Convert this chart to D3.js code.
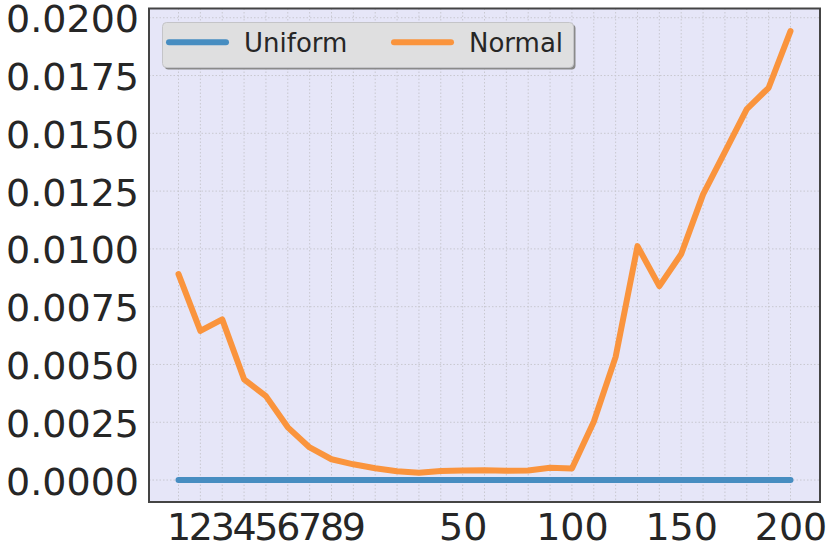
<!DOCTYPE html>
<html>
<head>
<meta charset="utf-8">
<script src="https://cdn.jsdelivr.net/npm/d3@7"></script>
<style>
  html, body { margin: 0; padding: 0; background: #ffffff; }
  svg { display: block; }
  text { font-family: 'DejaVu Sans', sans-serif; fill: #262626; }
</style>
</head>
<body>
<svg id="chart" width="830" height="554"></svg>
<script>
// ---- data ----
const categories = [1, 2, 3, 4, 5, 6, 7, 8, 9, 10, 20, 30, 40, 50, 60, 70, 80, 90, 100,
                    110, 120, 130, 140, 150, 160, 170, 180, 190, 200];
const shownXLabels = [1, 2, 3, 4, 5, 6, 7, 8, 9, 50, 100, 150, 200];
const uniformValues = [0, 0, 0, 0, 0, 0, 0, 0, 0, 0, 0, 0, 0, 0, 0,
                       0, 0, 0, 0, 0, 0, 0, 0, 0, 0, 0, 0, 0, 0];
const normalValues = [0.00891, 0.00645, 0.00695, 0.00436, 0.00363, 0.00228, 0.00141, 0.00090,
                      0.00068, 0.00051, 0.00038, 0.00032, 0.00039, 0.00041, 0.00042, 0.00040,
                      0.00041, 0.00053, 0.00050, 0.00252, 0.00533, 0.01012, 0.00839, 0.00978,
                      0.01236, 0.01420, 0.01605, 0.01697, 0.01942];
const yTicks = [0, 0.0025, 0.005, 0.0075, 0.01, 0.0125, 0.015, 0.0175, 0.02];
const seriesNames = ["Uniform", "Normal"];
const seriesColors = ["#478dc1", "#fa943d"];

// ---- layout ----
const svg = d3.select("#chart");
const m = { left: 149, top: 8.5, right: 820, bottom: 502 };
const W = m.right - m.left, H = m.bottom - m.top;
const g = svg.append("g").attr("transform", `translate(${m.left},${m.top})`);

const x = d3.scalePoint().domain(categories).range([0, W]).padding(1.35);
const y = d3.scaleLinear().domain([-0.00095, 0.0204]).range([H, 0]);

// background
g.append("rect").attr("width", W).attr("height", H).attr("fill", "#e6e6f8");

// grid
g.append("g").selectAll("line").data(categories).join("line")
  .attr("x1", d => x(d)).attr("x2", d => x(d)).attr("y1", 0).attr("y2", H)
  .attr("stroke", "#c8c8d0").attr("stroke-width", 1).attr("stroke-dasharray", "1.5,2");
g.append("g").selectAll("line").data(yTicks).join("line")
  .attr("x1", 0).attr("x2", W).attr("y1", d => y(d)).attr("y2", d => y(d))
  .attr("stroke", "#c8c8d0").attr("stroke-width", 1).attr("stroke-dasharray", "1.5,2");

// axes (labels only)
const yAxis = d3.axisLeft(y).tickValues(yTicks).tickFormat(d3.format(".4f")).tickSize(0).tickPadding(10);
const yg = g.append("g").call(yAxis);
yg.select(".domain").remove();
yg.selectAll("text").attr("font-size", 38).attr("fill", "#262626")
  .attr("font-family", "'DejaVu Sans', sans-serif").attr("dy", "0.37em");

const xAxis = d3.axisBottom(x).tickValues(categories)
  .tickFormat(d => shownXLabels.includes(d) ? String(d) : "").tickSize(0).tickPadding(11);
const xg = g.append("g").attr("transform", `translate(0,${H})`).call(xAxis);
xg.select(".domain").remove();
xg.selectAll("text").attr("font-size", 38).attr("fill", "#262626")
  .attr("font-family", "'DejaVu Sans', sans-serif");

// lines
const allSeries = [uniformValues, normalValues];
const line = d3.line().x((d, i) => x(categories[i])).y(d => y(d));
allSeries.forEach((vals, k) => {
  g.append("path").datum(vals)
    .attr("d", line)
    .attr("fill", "none")
    .attr("stroke", seriesColors[k])
    .attr("stroke-width", 6)
    .attr("stroke-linecap", "round")
    .attr("stroke-linejoin", "round");
});

// frame
g.append("rect").attr("width", W).attr("height", H)
  .attr("fill", "none").attr("stroke", "#444444").attr("stroke-width", 2);

// legend
const lg = svg.append("g");
lg.append("rect").attr("x", 164.5).attr("y", 24.5).attr("width", 411).attr("height", 45)
  .attr("rx", 4).attr("fill", "#8a8a8a");
lg.append("rect").attr("x", 162.5).attr("y", 22.5).attr("width", 411).attr("height", 45)
  .attr("rx", 4).attr("fill", "#dfdfe0").attr("stroke", "#c4c4c8").attr("stroke-width", 1);
const legendItems = [
  { x1: 169, x2: 226, tx: 244 },
  { x1: 394, x2: 451, tx: 469 }
];
seriesNames.forEach((name, k) => {
  const it = legendItems[k];
  lg.append("line").attr("x1", it.x1).attr("x2", it.x2).attr("y1", 42.3).attr("y2", 42.3)
    .attr("stroke", seriesColors[k]).attr("stroke-width", 6).attr("stroke-linecap", "round");
  lg.append("text").attr("x", it.tx).attr("y", 51.7).attr("font-size", 26).text(name);
});
</script>
</body>
</html>
